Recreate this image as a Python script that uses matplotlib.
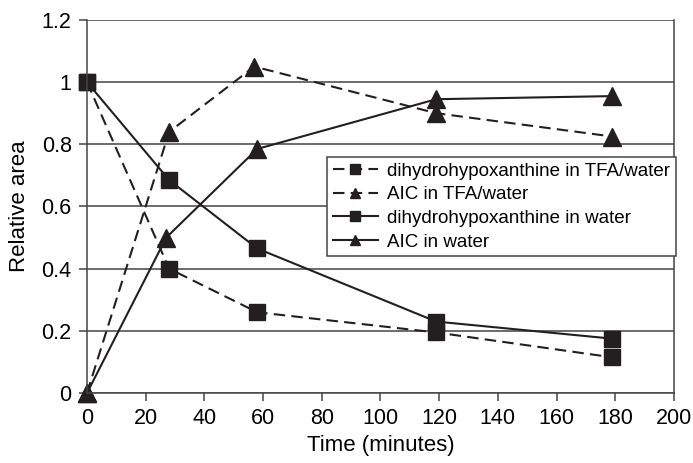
import matplotlib
matplotlib.use("Agg")
import matplotlib.pyplot as plt

plt.rcParams['font.family'] = ['Liberation Sans', 'DejaVu Sans']

# time points (minutes)
t_dhx_tfa = [0, 28, 58, 119, 179]
t_aic_tfa = [0, 28, 57, 119, 179]
t_dhx_w = [0, 28, 58, 119, 179]
t_aic_w = [0, 27, 58, 119, 179]

dhx_tfa = [1.0, 0.40, 0.26, 0.195, 0.115]
aic_tfa = [0.0, 0.84, 1.05, 0.90, 0.825]
dhx_water = [1.0, 0.685, 0.465, 0.23, 0.175]
aic_water = [0.0, 0.50, 0.785, 0.945, 0.955]

labels = ['dihydrohypoxanthine in TFA/water', 'AIC in TFA/water',
          'dihydrohypoxanthine in water', 'AIC in water']

fig = plt.figure(figsize=(6.93, 4.63), dpi=100)
ax = fig.add_axes([0.1255, 0.151, 0.847, 0.806])

c = '#231f20'
dash = (0, (5.5, 3))
ax.plot(t_dhx_tfa, dhx_tfa, ls=dash, marker='s', ms=11.5, color=c, lw=1.5, label=labels[0], clip_on=False)
ax.plot(t_aic_tfa, aic_tfa, ls=dash, marker='^', ms=13, color=c, lw=1.5, label=labels[1], clip_on=False)
ax.plot(t_dhx_w, dhx_water, ls='-', marker='s', ms=11.5, color=c, lw=1.5, label=labels[2], clip_on=False)
ax.plot(t_aic_w, aic_water, ls='-', marker='^', ms=13, color=c, lw=1.5, label=labels[3], clip_on=False)

ax.set_xlim(0, 200)
ax.set_ylim(0, 1.2)
ax.set_xticks(range(0, 201, 20))
ax.set_yticks([0, 0.2, 0.4, 0.6, 0.8, 1.0, 1.2])
ax.set_yticklabels(['0', '0.2', '0.4', '0.6', '0.8', '1', '1.2'])
ax.yaxis.grid(True, color='#444444', lw=1.1)
ax.set_axisbelow(True)
ax.tick_params(axis='both', labelsize=15.5, color='#444444', length=6, width=1.1, pad=5)
for s in ax.spines.values():
    s.set_color('#444444')
    s.set_linewidth(1.1)
ax.spines['top'].set_visible(False)

ax.set_xlabel('Time (minutes)', fontsize=16, labelpad=4)
ax.set_ylabel('Relative area', fontsize=16, labelpad=8)

leg = ax.legend(loc='upper left', bbox_to_anchor=(0.409, 0.633), fontsize=13.5,
                fancybox=False, framealpha=1, edgecolor='#444444',
                handlelength=2.4, borderpad=0.3, labelspacing=0.35,
                handletextpad=0.5, borderaxespad=0, markerscale=0.6)
leg.get_frame().set_linewidth(1.1)

fig.savefig('out.png', dpi=100)
